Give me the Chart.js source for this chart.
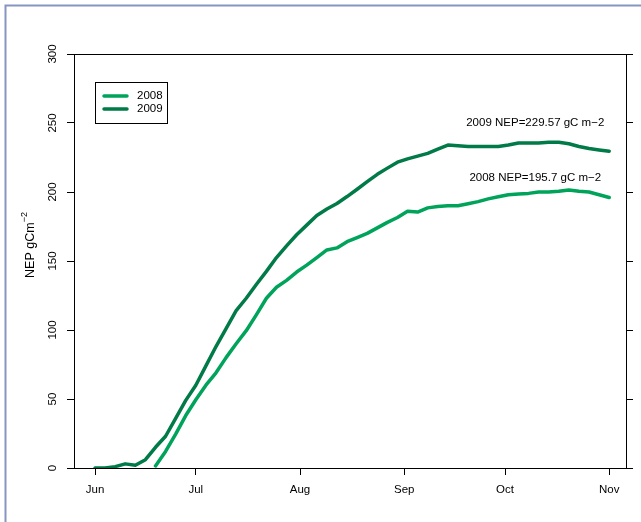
<!DOCTYPE html>
<html>
<head>
<meta charset="utf-8">
<script src="https://cdn.jsdelivr.net/npm/chart.js@4"></script>
<style>
  html, body { margin: 0; padding: 0; background: #fff; }
  #nepChart { display: block; }
</style>
</head>
<body>
<canvas id="nepChart" width="641" height="522"></canvas>
<script>
// days counted from 1 June
var days = [0, 3, 6, 9, 12, 15, 18, 21, 24, 27, 30, 33, 36, 39, 42, 45, 48, 51, 54, 57, 60,
  63, 66, 69, 72, 75, 78, 81, 84, 87, 90, 93, 96, 99, 102, 105, 108, 111, 114, 117, 120,
  123, 126, 129, 132, 135, 138, 141, 144, 147, 150, 153];

var nep2008 = [null, null, null, null, null, null, 1.5, 12, 24.5, 38, 49.5, 60, 69, 80, 90, 99.5,
  111, 123, 131, 136, 142, 147, 152.5, 158, 159.5, 164, 167, 170, 174, 178, 181.5, 186, 185.5,
  188.5, 189.5, 190, 190, 191.5, 193, 195, 196.5, 198, 198.5, 199, 200, 200, 200.5, 201.4,
  200.5, 200, 198, 196];

var nep2009 = [0, 0, 1, 3, 2, 6, 15, 23, 36, 49, 60, 74, 88, 101, 114, 123, 133, 142.5, 152.5,
  161, 169, 176, 183, 187.7, 191.7, 196.7, 202, 207.5, 212.8, 217.3, 221.6, 224, 226, 228, 231,
  234, 233.5, 233, 233, 233, 233, 234, 235.5, 235.5, 235.5, 236, 236, 235, 233, 231.5, 230.5, 229.6];

var monthTicks = [0, 30, 61, 92, 122, 153];
var monthNames = ["Jun", "Jul", "Aug", "Sep", "Oct", "Nov"];
var yTicks = [0, 50, 100, 150, 200, 250, 300];

var seriesLabels = ["2008", "2009"];
var seriesColors = ["#00a35a", "#007a47"];
var notes = [
  { text: "2009 NEP=229.57 gC m\u22122", day: 131, value: 250 },
  { text: "2008 NEP=195.7 gC m\u22122", day: 131, value: 210 }
];

var font = "'Liberation Sans', Arial, Helvetica, sans-serif";

function toPoints(vals) {
  return days.map(function (d, i) { return { x: d, y: vals[i] }; });
}

var axisStyle = {
  grid: { drawOnChartArea: false, drawTicks: true, tickLength: 7, color: "#000", lineWidth: 1 },
  border: { display: true, color: "#000", width: 1 }
};

var framePlugin = {
  id: "frame",
  beforeDraw: function (chart) {
    var ctx = chart.ctx;
    ctx.save();
    ctx.fillStyle = "#fff";
    ctx.fillRect(0, 0, chart.width, chart.height);
    ctx.strokeStyle = "#8795c2";
    ctx.lineWidth = 2;
    ctx.beginPath();
    ctx.moveTo(5.5, chart.height);
    ctx.lineTo(5.5, 5.5);
    ctx.lineTo(chart.width, 5.5);
    ctx.stroke();
    ctx.restore();
  },
  afterDraw: function (chart) {
    var ctx = chart.ctx;
    var a = chart.chartArea;
    var xs = chart.scales.x, ys = chart.scales.y;
    ctx.save();
    // plot box
    ctx.strokeStyle = "#000";
    ctx.lineWidth = 1;
    ctx.strokeRect(a.left + 0.5, a.top + 0.5, a.right - a.left, a.bottom - a.top);

    // legend
    var lx = a.left + 21, ly = a.top + 28;
    ctx.strokeRect(lx + 0.5, ly + 0.5, 72, 41);
    ctx.font = "11.5px " + font;
    ctx.textBaseline = "middle";
    ctx.textAlign = "left";
    chart.data.datasets.forEach(function (ds, i) {
      var yy = ly + 14 + i * 13;
      ctx.strokeStyle = ds.borderColor;
      ctx.lineWidth = 3.5;
      ctx.lineCap = "round";
      ctx.beginPath();
      ctx.moveTo(lx + 9, yy);
      ctx.lineTo(lx + 32, yy);
      ctx.stroke();
      ctx.fillStyle = "#000";
      ctx.fillText(ds.label, lx + 42, yy);
    });

    // annotations
    ctx.textAlign = "center";
    ctx.fillStyle = "#000";
    notes.forEach(function (n) {
      ctx.fillText(n.text, xs.getPixelForValue(n.day), ys.getPixelForValue(n.value));
    });

    // y axis title with superscript
    ctx.translate(31, 245);
    ctx.rotate(-Math.PI / 2);
    ctx.font = "12.5px " + font;
    var main = "NEP gCm";
    var sup = "\u22122";
    var w1 = ctx.measureText(main).width;
    ctx.font = "9px " + font;
    var w2 = ctx.measureText(sup).width;
    var start = -(w1 + w2) / 2;
    ctx.font = "12.5px " + font;
    ctx.textAlign = "left";
    ctx.fillText(main, start, 0);
    ctx.font = "9px " + font;
    ctx.fillText(sup, start + w1, -6);
    ctx.restore();
  }
};

new Chart(document.getElementById("nepChart"), {
  type: "line",
  data: {
    datasets: [
      {
        label: seriesLabels[0],
        data: toPoints(nep2008),
        borderColor: seriesColors[0],
        borderWidth: 3.5,
        borderCapStyle: "round",
        borderJoinStyle: "round",
        pointRadius: 0,
        tension: 0,
        fill: false
      },
      {
        label: seriesLabels[1],
        data: toPoints(nep2009),
        borderColor: seriesColors[1],
        borderWidth: 3.5,
        borderCapStyle: "round",
        borderJoinStyle: "round",
        pointRadius: 0,
        tension: 0,
        fill: false
      }
    ]
  },
  options: {
    responsive: false,
    animation: false,
    layout: { padding: { top: 54, left: 0, right: 0, bottom: 0 } },
    plugins: {
      legend: { display: false },
      tooltip: { enabled: false }
    },
    scales: {
      x: Object.assign({
        type: "linear",
        position: "bottom",
        min: -6.25,
        max: 158,
        afterBuildTicks: function (scale) {
          scale.ticks = monthTicks.map(function (v) { return { value: v }; });
        },
        afterFit: function (scale) { scale.height = 54; },
        ticks: {
          padding: 8,
          color: "#000",
          maxRotation: 0,
          font: { family: font, size: 11.5 },
          callback: function (v) {
            var i = monthTicks.indexOf(v);
            return i >= 0 ? monthNames[i] : "";
          }
        }
      }, axisStyle),
      y: Object.assign({
        type: "linear",
        position: "left",
        min: 0,
        max: 300,
        afterBuildTicks: function (scale) {
          scale.ticks = yTicks.map(function (v) { return { value: v }; });
        },
        afterFit: function (scale) { scale.width = 74; },
        ticks: {
          color: "#000",
          padding: 5,
          minRotation: 90,
          maxRotation: 90,
          crossAlign: "center",
          font: { family: font, size: 11.5 }
        }
      }, axisStyle),
      y2: Object.assign({
        type: "linear",
        position: "right",
        min: 0,
        max: 300,
        afterBuildTicks: function (scale) {
          scale.ticks = yTicks.map(function (v) { return { value: v }; });
        },
        afterFit: function (scale) { scale.width = 15; },
        ticks: { display: false }
      }, axisStyle)
    }
  },
  plugins: [framePlugin]
});
</script>
</body>
</html>
